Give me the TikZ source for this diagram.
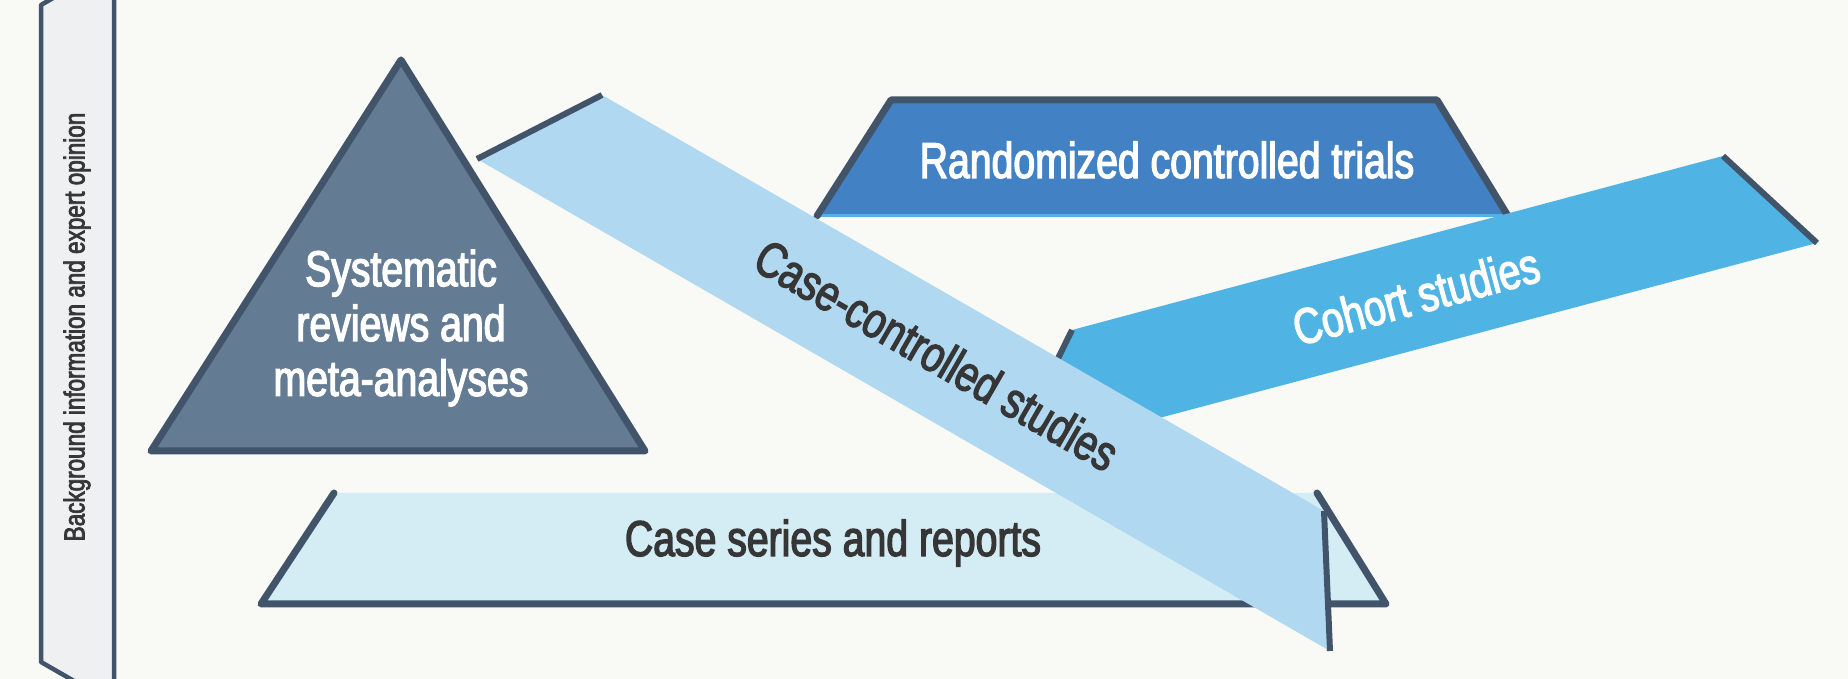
\documentclass[tikz,border=0pt]{standalone}
\usepackage{fontspec}
\setmainfont{Liberation Sans}[FakeStretch=0.78,FakeBold=2.6]
\definecolor{bgcol}{HTML}{F9F9F5}
\definecolor{edgecol}{HTML}{42546A}
\definecolor{barcol}{HTML}{EEF0F1}
\definecolor{tricol}{HTML}{637B93}
\definecolor{rctcol}{HTML}{4281C3}
\definecolor{rctline}{HTML}{52B2E6}
\definecolor{cohcol}{HTML}{4FB3E4}
\definecolor{ccscol}{HTML}{B0D8F0}
\definecolor{sercol}{HTML}{D4ECF4}
\definecolor{txtcol}{HTML}{363636}
\tikzstyle{edge} = [draw=edgecol,line width=0.7mm,line join=round,line cap=round]
\tikzstyle{bandend} = [draw=edgecol,line width=0.6mm]
\tikzstyle{boxtext} = [font=\fontsize{14.3}{15.6}\selectfont,inner sep=0,align=center]
\tikzstyle{whitetext} = [boxtext,text=white]
\tikzstyle{darktext} = [boxtext,text=txtcol]

\begin{document}
\begin{tikzpicture}[x=0.1mm,y=-0.1mm]
      \fill[bgcol] (0,0) rectangle (1848,679);
      \useasboundingbox (0,0) rectangle (1848,679);
      % background bar on the left
      \draw[edge,line width=0.45mm,fill=barcol] (114,-37) -- (41,5) -- (41,662) -- (114,704) -- cycle;
      \node[darktext,rotate=90,font=\fontsize{8.2}{9}\selectfont] (bgo) at (77,327) {Background information and expert opinion};
      % case series
      \coordinate (s1) at (334,493);
      \coordinate (s2) at (1317,493);
      \coordinate (s3) at (1386,604);
      \coordinate (s4) at (261,604);
      \fill[sercol] (s1) -- (s2) -- (s3) -- (s4) -- cycle;
      \draw[edge] (s1) -- (s4) -- (s3) -- (s2);
      \node[darktext] (ser) at (833,543) {Case series and reports};
      % randomized controlled trials
      \coordinate (r1) at (891,100);
      \coordinate (r2) at (1437,100);
      \coordinate (r3) at (1508,216);
      \coordinate (r4) at (817,216);
      \fill[rctcol] (r1) -- (r2) -- (r3) -- (r4) -- cycle;
      \draw[rctline,line width=0.3mm] (r4) -- (r3);
      \draw[edge] (r4) -- (r1) -- (r2) -- (r3);
      \node[whitetext] (rct) at (1167,160) {Randomized controlled trials};
      % cohort studies
      \coordinate (c1) at (1072,330);
      \coordinate (c2) at (1723,156);
      \coordinate (c3) at (1817,243);
      \coordinate (c4) at (1009,458);
      \fill[cohcol] (c1) -- (c2) -- (c3) -- (c4) -- cycle;
      \draw[bandend] (c4) -- (c1);
      \draw[bandend] (c2) -- (c3);
      \node[whitetext,rotate=15] (coh) at (1416,296) {Cohort studies};
      % case-controlled studies
      \coordinate (k1) at (602,95);
      \coordinate (k2) at (1324,511);
      \coordinate (k3) at (1330,651);
      \coordinate (k4) at (477,159);
      \fill[ccscol] (k1) -- (k2) -- (k3) -- (k4) -- cycle;
      \draw[bandend] (k4) -- (k1);
      \draw[bandend] (k2) -- (k3);
      \node[darktext,rotate=-30] (ccs) at (937,355) {Case-controlled studies};
      % systematic reviews
      \draw[edge,fill=tricol] (401,60) -- (645,451) -- (151,451) -- cycle;
      \node[whitetext] (sys) at (401,328) {Systematic\\reviews and\\meta-analyses};
    \end{tikzpicture}
\end{document}
